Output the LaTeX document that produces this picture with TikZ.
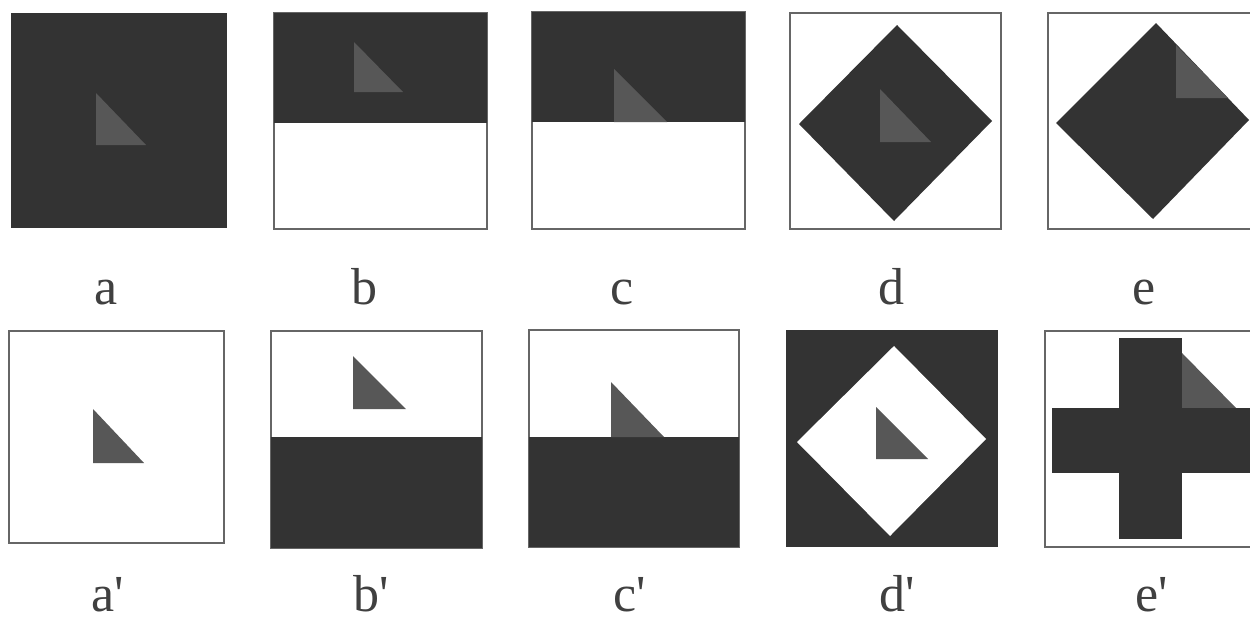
\documentclass[tikz,border=0pt]{standalone}
\usepackage{fontspec}
\setmainfont{Liberation Serif}
\usetikzlibrary{positioning}

\begin{document}
\begin{tikzpicture}[x=1pt, y=-1pt, every node/.style={font=\fontsize{52}{52}\selectfont, anchor=base, text=black!75, inner sep=0pt, text depth=0pt}]
      \colorlet{darkbg}{black!80} \colorlet{tribg}{black!66} \colorlet{frameline}{black!60}
      \tikzset{panel/.style={draw=frameline, line width=1.2pt, fill=white}, tri/.style={fill=tribg}}
      \clip (0,0) rectangle (1250,624);
      \fill[white] (0,0) rectangle (1250,624);
      % upper row
      \fill[darkbg] (11,13) rectangle (227,228);
      \fill[tri] (96,93) -- (96,145) -- (146,145) -- cycle;
      \draw[panel] (274,13) rectangle (487,229);
      \fill[darkbg] (274,13) rectangle (487,123);
      \fill[tri] (354,42) -- (354,92) -- (403,92) -- cycle;
      \draw[panel] (532,12) rectangle (745,229);
      \fill[darkbg] (532,12) rectangle (745,122);
      \fill[tri] (614,69) -- (614,122) -- (667,122) -- cycle;
      \draw[panel] (790,13) rectangle (1001,229);
      \fill[darkbg] (897,25) -- (799,124) -- (894,221) -- (992,121) -- cycle;
      \fill[tri] (880,89) -- (880,142) -- (931,142) -- cycle;
      \draw[panel] (1048,13) rectangle (1262,229);
      \fill[darkbg] (1156,23) -- (1056,123) -- (1153,219) -- (1249,120) -- cycle;
      \fill[tri] (1176,45) -- (1176,98) -- (1228,98) -- cycle;
      \node (la) at (106,304) {a};
      \node (lb) at (364,304) {b};
      \node (lc) at (622,304) {c};
      \node (ld) at (891,304) {d};
      \node (le) at (1144,304) {e};
      % lower row
      \draw[panel] (9,331) rectangle (224,543);
      \fill[tri] (93,409) -- (93,463) -- (144,463) -- cycle;
      \draw[panel] (271,331) rectangle (482,548);
      \fill[darkbg] (271,437) rectangle (482,548);
      \fill[tri] (353,356) -- (353,409) -- (406,409) -- cycle;
      \draw[panel] (529,330) rectangle (739,547);
      \fill[darkbg] (529,437) rectangle (739,547);
      \fill[tri] (611,382) -- (611,437) -- (664,437) -- cycle;
      \fill[darkbg] (786,330) rectangle (998,547);
      \fill[white] (894,346) -- (797,442) -- (890,536) -- (986,439) -- cycle;
      \fill[tri] (876,407) -- (876,459) -- (928,459) -- cycle;
      \draw[panel] (1045,331) rectangle (1262,547);
      \fill[tri] (1182,353) -- (1182,408) -- (1236,408) -- cycle;
      \fill[darkbg] (1119,338) rectangle (1182,539);
      \fill[darkbg] (1052,408) rectangle (1262,473);
      \node (la2) at (108,611) {a\textquotesingle};
      \node (lb2) at (371,611) {b\textquotesingle};
      \node (lc2) at (630,611) {c\textquotesingle};
      \node (ld2) at (897,611) {d\textquotesingle};
      \node (le2) at (1152,611) {e\textquotesingle};
\end{tikzpicture}
\end{document}
